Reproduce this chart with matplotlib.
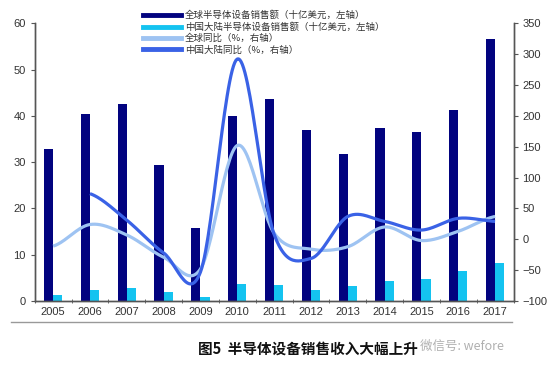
import numpy as np
import matplotlib
matplotlib.use("Agg")
import matplotlib.pyplot as plt
from matplotlib.lines import Line2D

plt.rcParams['font.family'] = ['Liberation Sans', 'Noto Sans CJK SC', 'DejaVu Sans']

years = ['2005', '2006', '2007', '2008', '2009', '2010', '2011', '2012',
         '2013', '2014', '2015', '2016', '2017']
global_sales = [32.8, 40.4, 42.5, 29.4, 15.8, 39.9, 43.6, 36.9, 31.7, 37.3, 36.5, 41.2, 56.5]
china_sales = [1.3, 2.4, 2.8, 1.9, 0.9, 3.7, 3.5, 2.4, 3.2, 4.3, 4.7, 6.5, 8.2]
global_yoy = [-11, 24, 7, -29, -48, 152, 10, -16, -12, 20, -2, 13, 37]
china_yoy = [None, 74, 31, -22, -53, 292, 8, -31, 37, 29, 15, 34, 29]

labels = ['全球半导体设备销售额（十亿美元，左轴）', '中国大陆半导体设备销售额（十亿美元，左轴）',
          '全球同比（%，右轴）', '中国大陆同比（%，右轴）']
caption = '图5  半导体设备销售收入大幅上升'

c_dark = '#02037f'
c_cyan = '#14c3f0'
c_light = '#9ec3f2'
c_blue = '#3a62e6'


def smooth(xs, ys, n=30):
    xs = np.asarray(xs, float)
    ys = np.asarray(ys, float)
    px, py = [], []
    for i in range(len(xs) - 1):
        p0 = (xs[i - 1] if i > 0 else 2 * xs[0] - xs[1], ys[i - 1] if i > 0 else ys[0])
        p1 = (xs[i], ys[i])
        p2 = (xs[i + 1], ys[i + 1])
        p3 = (xs[i + 2], ys[i + 2]) if i + 2 < len(xs) else (2 * xs[-1] - xs[-2], ys[-1])
        t = np.linspace(0, 1, n)
        for k, arr in ((0, px), (1, py)):
            a0, a1, a2, a3 = p0[k], p1[k], p2[k], p3[k]
            v = 0.5 * ((2 * a1) + (-a0 + a2) * t + (2 * a0 - 5 * a1 + 4 * a2 - a3) * t ** 2
                       + (-a0 + 3 * a1 - 3 * a2 + a3) * t ** 3)
            arr.extend(v if i == 0 else v[1:])
    return np.array(px), np.array(py)


fig = plt.figure(figsize=(5.6, 3.74), dpi=100)
ax = fig.add_axes([0.062, 0.195, 0.855, 0.743])
ax2 = ax.twinx()

x = np.arange(len(years))
w = 0.25
ax.bar(x - w / 2, global_sales, w, color=c_dark, zorder=2)
ax.bar(x + w / 2, china_sales, w, color=c_cyan, zorder=2)

gx, gy = smooth(x, global_yoy)
ax2.plot(gx, gy, color=c_light, lw=2.3, solid_capstyle='butt')
cx_idx = [i for i, v in enumerate(china_yoy) if v is not None]
sx, sy = smooth([x[i] for i in cx_idx], [china_yoy[i] for i in cx_idx])
ax2.plot(sx, sy, color=c_blue, lw=2.3, solid_capstyle='butt')

ax.set_xlim(-0.5, len(years) - 0.5)
ax.set_ylim(0, 60)
ax.set_yticks(range(0, 61, 10))
ax2.set_ylim(-100, 350)
ax2.set_yticks(range(-100, 351, 50))
ax.set_xticks(x)
ax.set_xticklabels(years)
ax.set_xticks(np.arange(-0.5, len(years), 1), minor=True)

gray = '#555555'
for a in (ax, ax2):
    a.spines['top'].set_visible(False)
    for s in ('left', 'right', 'bottom'):
        a.spines[s].set_color(gray)
        a.spines[s].set_linewidth(1.0)
    a.tick_params(axis='both', colors=gray, labelcolor='#333333', labelsize=8, length=3, width=0.8)
ax.tick_params(axis='x', which='major', length=0, pad=4)
ax.tick_params(axis='x', which='minor', length=3, direction='inout', color=gray)
ax.set_facecolor('none')
ax2.set_zorder(ax.get_zorder() + 1)

handles = [Line2D([0], [0], color=c, lw=3.5) for c in (c_dark, c_cyan, c_light, c_blue)]
leg = fig.legend(handles, labels, loc='upper left', bbox_to_anchor=(0.24, 0.995),
                 frameon=False, handlelength=4.0, handletextpad=0.45,
                 labelspacing=0.22, prop={'family': ['Noto Sans CJK SC'], 'size': 6.8})
for t in leg.get_texts():
    t.set_color('#333333')

fig.add_artist(Line2D([0.02, 0.915], [0.138, 0.138], color='#999999', lw=1.0))
fig.text(0.55, 0.068, caption, ha='center', va='center', fontsize=10.5, fontweight='bold',
         family=['Noto Sans CJK SC'], color='#111111')
fig.text(0.75, 0.075, '微信号: wefore', ha='left', va='center', fontsize=9,
         family=['Noto Sans CJK SC'], color='#b0b0b0')

fig.savefig('out.png', dpi=100)
